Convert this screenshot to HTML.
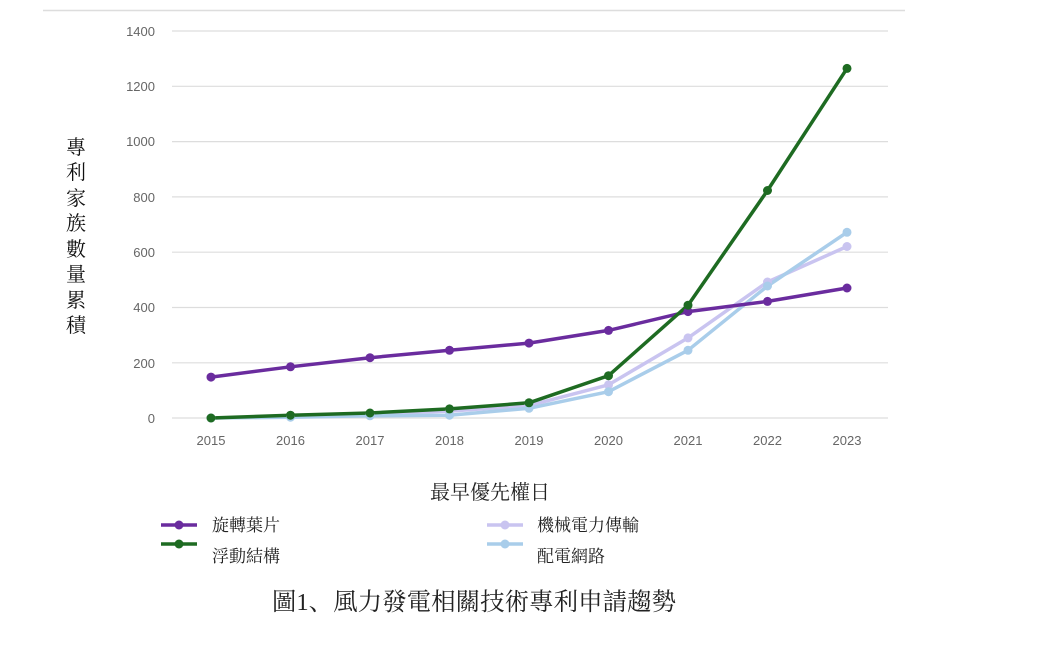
<!DOCTYPE html>
<html><head><meta charset="utf-8"><style>
body{margin:0;background:#fff;}
svg{display:block;}
.t{font-family:"Liberation Sans",sans-serif;font-size:13px;fill:#666;}
.c{font-family:"Liberation Serif","Noto Serif CJK SC","Noto Sans CJK TC",serif;fill:#222;}
</style></head><body>
<svg width="1041" height="656" xmlns="http://www.w3.org/2000/svg">
<line x1="43" y1="10.5" x2="905" y2="10.5" stroke="#ddd" stroke-width="1.5"/>
<g stroke="#ddd" stroke-width="1.2">
<line x1="172" y1="31" x2="888" y2="31"/><line x1="172" y1="86.3" x2="888" y2="86.3"/>
<line x1="172" y1="141.6" x2="888" y2="141.6"/><line x1="172" y1="196.9" x2="888" y2="196.9"/>
<line x1="172" y1="252.2" x2="888" y2="252.2"/><line x1="172" y1="307.5" x2="888" y2="307.5"/>
<line x1="172" y1="362.8" x2="888" y2="362.8"/><line x1="172" y1="418" x2="888" y2="418"/>
</g>
<g class="t" text-anchor="end">
<text x="155" y="36">1400</text><text x="155" y="91">1200</text><text x="155" y="146">1000</text>
<text x="155" y="202">800</text><text x="155" y="257">600</text><text x="155" y="312">400</text>
<text x="155" y="368">200</text><text x="155" y="423">0</text>
</g>
<g class="t" text-anchor="middle">
<text x="211" y="445">2015</text><text x="290.5" y="445">2016</text><text x="370" y="445">2017</text>
<text x="449.5" y="445">2018</text><text x="529" y="445">2019</text><text x="608.5" y="445">2020</text>
<text x="688" y="445">2021</text><text x="767.5" y="445">2022</text><text x="847" y="445">2023</text>
</g>
<g class="c" font-size="20" text-anchor="middle" style="fill:#111">
<text x="76" y="154">專</text><text x="76" y="179">利</text><text x="76" y="205">家</text><text x="76" y="230">族</text>
<text x="76" y="256">數</text><text x="76" y="281">量</text><text x="76" y="307">累</text><text x="76" y="332">積</text>
</g>
<g fill="none" stroke-width="3.5" stroke-linejoin="round">
<polyline stroke="#c9c4f0" points="211,418 290.5,416.6 370,413.9 449.5,411.1 529,405.6 608.5,384.8 688,337.9 767.5,282 847,246.5"/>
<polyline stroke="#a9cdea" points="211,418 290.5,417.2 370,415.8 449.5,415.2 529,408.3 608.5,391.7 688,350.3 767.5,286 847,232.3"/>
<polyline stroke="#6a2c9e" points="211,377.1 290.5,366.8 370,357.7 449.5,350.3 529,343.1 608.5,330.4 688,311.6 767.5,301.4 847,288"/>
<polyline stroke="#1e6b22" points="211,418 290.5,415.2 370,413 449.5,408.9 529,402.8 608.5,375.7 688,305.2 767.5,190.5 847,68.4"/>
</g>
<g fill="#c9c4f0"><circle cx="211" cy="418" r="4.5"/><circle cx="290.5" cy="416.6" r="4.5"/><circle cx="370" cy="413.9" r="4.5"/><circle cx="449.5" cy="411.1" r="4.5"/><circle cx="529" cy="405.6" r="4.5"/><circle cx="608.5" cy="384.8" r="4.5"/><circle cx="688" cy="337.9" r="4.5"/><circle cx="767.5" cy="282" r="4.5"/><circle cx="847" cy="246.5" r="4.5"/></g>
<g fill="#a9cdea"><circle cx="211" cy="418" r="4.5"/><circle cx="290.5" cy="417.2" r="4.5"/><circle cx="370" cy="415.8" r="4.5"/><circle cx="449.5" cy="415.2" r="4.5"/><circle cx="529" cy="408.3" r="4.5"/><circle cx="608.5" cy="391.7" r="4.5"/><circle cx="688" cy="350.3" r="4.5"/><circle cx="767.5" cy="286" r="4.5"/><circle cx="847" cy="232.3" r="4.5"/></g>
<g fill="#6a2c9e"><circle cx="211" cy="377.1" r="4.5"/><circle cx="290.5" cy="366.8" r="4.5"/><circle cx="370" cy="357.7" r="4.5"/><circle cx="449.5" cy="350.3" r="4.5"/><circle cx="529" cy="343.1" r="4.5"/><circle cx="608.5" cy="330.4" r="4.5"/><circle cx="688" cy="311.6" r="4.5"/><circle cx="767.5" cy="301.4" r="4.5"/><circle cx="847" cy="288" r="4.5"/></g>
<g fill="#1e6b22"><circle cx="211" cy="418" r="4.5"/><circle cx="290.5" cy="415.2" r="4.5"/><circle cx="370" cy="413" r="4.5"/><circle cx="449.5" cy="408.9" r="4.5"/><circle cx="529" cy="402.8" r="4.5"/><circle cx="608.5" cy="375.7" r="4.5"/><circle cx="688" cy="305.2" r="4.5"/><circle cx="767.5" cy="190.5" r="4.5"/><circle cx="847" cy="68.4" r="4.5"/></g>
<text class="c" x="490" y="499" font-size="20" text-anchor="middle">最早優先權日</text>
<g stroke-width="3.5">
<line x1="161" y1="525" x2="197" y2="525" stroke="#6a2c9e"/><circle cx="179" cy="525" r="4.5" fill="#6a2c9e"/>
<line x1="161" y1="544" x2="197" y2="544" stroke="#1e6b22"/><circle cx="179" cy="544" r="4.5" fill="#1e6b22"/>
<line x1="487" y1="525" x2="523" y2="525" stroke="#c9c4f0"/><circle cx="505" cy="525" r="4.5" fill="#c9c4f0"/>
<line x1="487" y1="544" x2="523" y2="544" stroke="#a9cdea"/><circle cx="505" cy="544" r="4.5" fill="#a9cdea"/>
</g>
<g class="c" font-size="17">
<text x="212" y="531">旋轉葉片</text><text x="212" y="562">浮動結構</text>
<text x="537" y="531">機械電力傳輸</text><text x="537" y="562">配電網路</text>
</g>
<text class="c" x="474" y="610" font-size="24.5" text-anchor="middle">圖1、風力發電相關技術專利申請趨勢</text>
</svg>
</body></html>
